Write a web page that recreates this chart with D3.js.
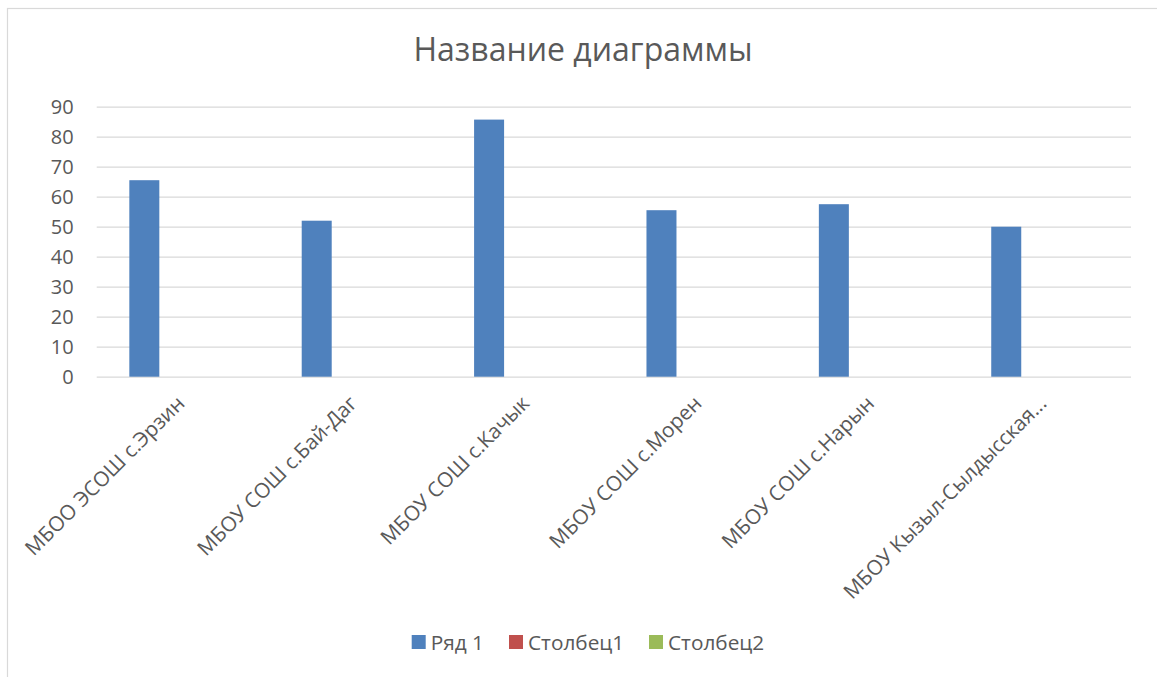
<!DOCTYPE html>
<html><head><meta charset="utf-8">
<script src="https://cdn.jsdelivr.net/npm/d3@7"></script>
<style>
body{margin:0;background:#fff;}
text{font-family:"Open Sans","Noto Sans",sans-serif;fill:#595959;}
</style></head>
<body><svg id="chart" width="1157" height="677"></svg>
<script>
const title = "Название диаграммы";
const categories = ["МБОО ЭСОШ с.Эрзин","МБОУ СОШ с.Бай-Даг","МБОУ СОШ с.Качык","МБОУ СОШ с.Морен","МБОУ СОШ с.Нарын","МБОУ Кызыл-Сылдысская..."];
const seriesNames = ["Ряд 1","Столбец1","Столбец2"];
const seriesColors = ["#4f81bd","#c0504d","#9bbb59"];
const ryad1 = [65.5, 52, 85.7, 55.5, 57.5, 50];
const stolbets1 = [null, null, null, null, null, null];
const stolbets2 = [null, null, null, null, null, null];
const yTicks = [0,10,20,30,40,50,60,70,80,90];

const seriesValues = [ryad1, stolbets1, stolbets2];
const svg = d3.select("#chart");

svg.append("rect").attr("x",7.5).attr("y",8.5).attr("width",1160).attr("height",680)
  .attr("fill","#fff").attr("stroke","#d9d9d9").attr("stroke-width",1.2);

const plotL = 96.7, plotR = 1131, plotT = 106.7, plotB = 376.7;
const y = d3.scaleLinear().domain([0,90]).range([plotB, plotT]);
const x0 = d3.scaleBand().domain(categories).range([plotL, plotR]).padding(0);
const x1 = d3.scaleBand().domain(seriesNames).range([0, x0.bandwidth()])
  .paddingInner(0).paddingOuter(1.373).align(0.396);

// gridlines
const yAxis = d3.axisLeft(y).tickValues(yTicks).tickSize(-(plotR-plotL)).tickPadding(23).tickFormat(d3.format("d"));
const ga = svg.append("g").attr("transform",`translate(${plotL},0)`).call(yAxis);
ga.select(".domain").remove();
ga.selectAll(".tick line").attr("stroke","#d9d9d9").attr("stroke-width",1.3);
ga.selectAll(".tick text").attr("font-size",20).attr("fill","#595959")
  .attr("font-family","'Open Sans','Noto Sans',sans-serif");

// bars
const groups = svg.append("g").selectAll("g").data(seriesNames).join("g")
  .attr("fill",(d,i)=>seriesColors[i]);
groups.selectAll("rect").data((s,si)=>categories.map((c,ci)=>({c, s, v: seriesValues[si][ci]})).filter(d=>d.v!=null))
  .join("rect")
  .attr("x",d=>x0(d.c)+x1(d.s))
  .attr("width",x1.bandwidth())
  .attr("y",d=>y(d.v))
  .attr("height",d=>y(0)-y(d.v));

// x labels
const xg = svg.append("g");
xg.selectAll("text").data(categories).join("text")
  .attr("transform",d=>`translate(${x0(d)+x0.bandwidth()/2+3},${plotB+28}) rotate(-45)`)
  .attr("text-anchor","end")
  .attr("font-size",20.7)
  .text(d=>d);

// title
svg.append("text").attr("x",583).attr("y",61).attr("text-anchor","middle")
  .attr("font-size",32).text(title);

// legend
const legendX = [411.7, 509, 649];
const lg = svg.append("g").selectAll("g").data(seriesNames).join("g")
  .attr("transform",(d,i)=>`translate(${legendX[i]},635)`);
lg.append("rect").attr("width",14).attr("height",14).attr("fill",(d,i)=>seriesColors[i]);
lg.append("text").attr("x",19).attr("y",14.5).attr("font-size",20.8).text(d=>d);
</script></body></html>
